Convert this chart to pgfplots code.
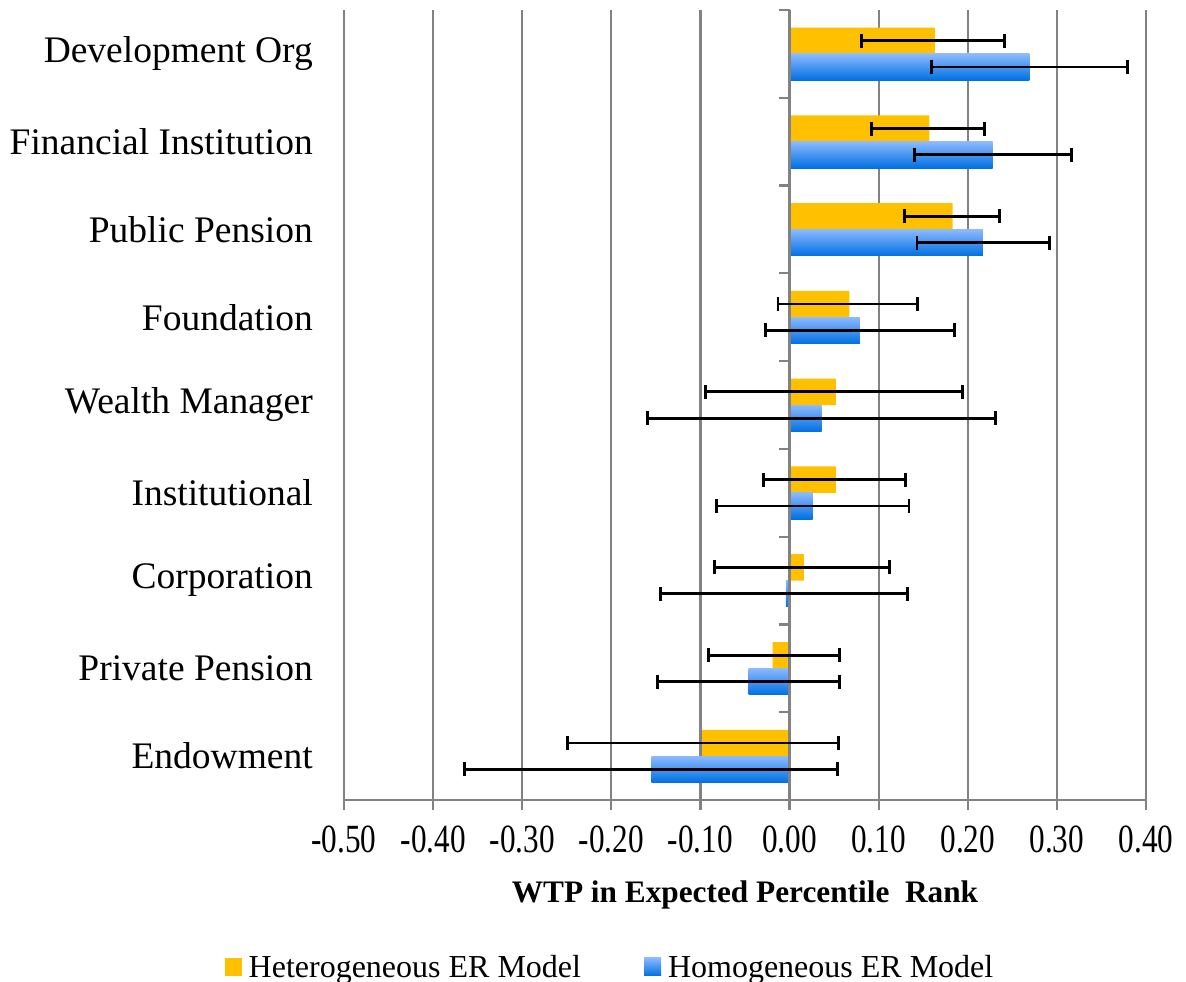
\documentclass[border=0pt]{standalone}
\usepackage{fontspec}
\setmainfont{Liberation Serif}
\newfontfamily\tickfont{Liberation Serif}[FakeStretch=0.78]
\usepackage{pgfplots}
\usepackage{pgfplotstable}
\pgfplotsset{compat=1.18}
\definecolor{hetyellow}{RGB}{255,192,0}
\definecolor{homlight}{RGB}{140,186,255}
\definecolor{homdark}{RGB}{0,112,226}
\definecolor{gridgray}{RGB}{130,130,130}

% y: 8 = Development Org ... 0 = Endowment; ep = plus error, em = minus error
\pgfplotstableread{
y x ep em
8 0.163 0.078 0.082
7 0.157 0.062 0.065
6 0.183 0.053 0.054
5 0.067 0.077 0.080
4 0.052 0.142 0.146
3 0.052 0.078 0.081
2 0.016 0.096 0.100
1 -0.019 0.075 0.072
0 -0.098 0.153 0.151
}\het
\pgfplotstableread{
y x ep em
8 0.269 0.110 0.110
7 0.228 0.088 0.088
6 0.217 0.075 0.074
5 0.079 0.106 0.106
4 0.036 0.195 0.195
3 0.026 0.108 0.108
2 -0.004 0.136 0.141
1 -0.046 0.102 0.102
0 -0.155 0.209 0.210
}\hom

\begin{document}
\begin{tikzpicture}
\path[use as bounding box] (-344bp,-182bp) rectangle (842bp,800bp);
\begin{axis}[
  scale only axis,
  width=802bp, height=790bp,
  xmin=-0.5, xmax=0.4,
  ymin=-0.5, ymax=8.5,
  axis x line*=bottom,
  axis y line*=left,
  x axis line style={-, draw=gridgray, line width=2.2bp},
  y axis line style={-, draw=gridgray, line width=2.2bp},
  xtick={-0.5,-0.4,-0.3,-0.2,-0.1,0,0.1,0.2,0.3,0.4},
  xticklabels={-0.50,-0.40,-0.30,-0.20,-0.10,0.00,0.10,0.20,0.30,0.40},
  xtick pos=bottom,
  tick align=outside,
  major tick length=10bp,
  xtick style={draw=gridgray, line width=2.2bp},
  xticklabel style={font=\tickfont\fontsize{40bp}{44bp}\selectfont, inner sep=0pt, yshift=-16bp},
  ytick={0,...,8},
  yticklabels={Endowment, Private Pension, Corporation, Institutional, Wealth Manager, Foundation, Public Pension, Financial Institution, Development Org},
  ytick style={draw=none},
  yticklabel style={font=\fontsize{37.5bp}{41bp}\selectfont, inner sep=0pt, anchor=east, xshift=-21bp},
  xmajorgrids,
  grid style={draw=gridgray, line width=2.2bp},
  xlabel={WTP in Expected Percentile\ \ Rank},
  xlabel style={font=\bfseries\fontsize{31.3bp}{35bp}\selectfont, at={(axis description cs:0.5,-0.102)}, anchor=north, inner sep=0pt},
  legend style={at={(axis description cs:-0.149,-0.211)}, anchor=west, draw=none, fill=none,
    font=\fontsize{32bp}{36bp}\selectfont, legend columns=2, inner sep=0pt,
    /tikz/every even column/.append style={column sep=61bp}},
  legend cell align=left,
  legend image code/.code={\path[#1, draw=none] (0bp,-9bp) rectangle (17bp,9bp);},
  errs/.style={draw=none, mark=none, forget plot,
    error bars/.cd, x dir=both, x explicit,
    error bar style={draw=black, line width=2.8bp},
    error mark=|,
    error mark options={draw=black, line width=2.8bp, mark size=7bp}},
]
% Heterogeneous bars
\addplot[xbar, bar width=0.3, bar shift=0pt, fill=hetyellow, draw=none]
  table[x=x, y expr=\thisrow{y}+0.15] {\het};
\addlegendentry{\hspace{5bp}Heterogeneous ER Model}
% Homogeneous bars, one plot per bar so each has its own gradient
\addplot[xbar, bar width=0.3, bar shift=0pt, top color=homlight, bottom color=homdark, draw=none,
  x filter/.expression={\coordindex==0 ? x : nan}]
  table[x=x, y expr=\thisrow{y}-0.15] {\hom};
\addlegendentry{\hspace{5bp}Homogeneous ER Model}
\pgfplotsinvokeforeach{1,...,8}{
\addplot[xbar, bar width=0.3, bar shift=0pt, top color=homlight, bottom color=homdark, draw=none, forget plot,
  x filter/.expression={\coordindex==#1 ? x : nan}]
  table[x=x, y expr=\thisrow{y}-0.15] {\hom};
}
% zero line and its category ticks
\addplot[gridgray, line width=2.2bp, forget plot] coordinates {(0,-0.5) (0,8.5)};
\addplot[only marks, mark=-, mark size=5.5bp, forget plot,
  mark options={draw=gridgray, line width=2.2bp, xshift=-5.5bp}]
  coordinates {(0,-0.5) (0,0.5) (0,1.5) (0,2.5) (0,3.5) (0,4.5) (0,5.5) (0,6.5) (0,7.5) (0,8.5)};
% error bars
\addplot[errs] table[x=x, y expr=\thisrow{y}+0.15, x error plus=ep, x error minus=em] {\het};
\addplot[errs] table[x=x, y expr=\thisrow{y}-0.15, x error plus=ep, x error minus=em] {\hom};
\end{axis}
\end{tikzpicture}
\end{document}
